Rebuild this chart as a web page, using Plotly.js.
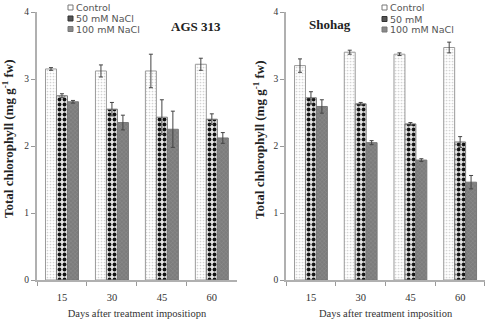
<!DOCTYPE html>
<html>
<head>
<meta charset="utf-8">
<script src="https://cdn.plot.ly/plotly-3.0.1.min.js"></script>
<style>
  html, body { margin: 0; padding: 0; background: #fff; }
  #chart { width: 486px; height: 322px; }
</style>
</head>
<body>
<div id="chart"></div>
<script>
// Days after treatment imposition
const days = ['15', '30', '45', '60'];

// AGS 313 — total chlorophyll (mg g-1 fw) and standard errors
const agsControl = [3.15, 3.12, 3.12, 3.22];
const agsControlErr = [0.02, 0.09, 0.25, 0.09];
const ags50 = [2.75, 2.55, 2.43, 2.40];
const ags50Err = [0.03, 0.10, 0.26, 0.08];
const ags100 = [2.66, 2.35, 2.25, 2.12];
const ags100Err = [0.02, 0.11, 0.27, 0.08];

// Shohag — total chlorophyll (mg g-1 fw) and standard errors
const shoControl = [3.20, 3.40, 3.37, 3.47];
const shoControlErr = [0.10, 0.03, 0.02, 0.08];
const sho50 = [2.72, 2.63, 2.33, 2.06];
const sho50Err = [0.09, 0.02, 0.02, 0.08];
const sho100 = [2.59, 2.05, 1.79, 1.46];
const sho100Err = [0.10, 0.03, 0.02, 0.10];

// Legend labels for each panel
const agsNames = ['Control', '50 mM NaCl', '100 mM NaCl'];
const shoNames = ['Control', '50 mM', '100 mM NaCl'];

const styles = [
  { color: '#ffffff', line: { color: '#9a9a9a', width: 1 },
    pattern: { shape: '.', fgcolor: '#d2d2d2', bgcolor: '#ffffff', size: 3, solidity: 0.25 },
    swatch: '#ffffff', swatchLine: '#777777' },
  { color: '#222222', line: { color: '#7a7a7a', width: 1 },
    pattern: { shape: '.', fgcolor: '#111111', bgcolor: '#e6e6e6', size: 5, solidity: 0.45 },
    swatch: '#555555', swatchLine: '#333333' },
  { color: '#848484', line: { color: '#777777', width: 1 },
    pattern: { shape: 'x', fgcolor: '#9a9a9a', bgcolor: '#7c7c7c', size: 3, solidity: 0.2 },
    swatch: '#8a8a8a', swatchLine: '#777777' }
];

function bar(y, err, name, style, xa, ya) {
  return {
    type: 'bar', x: days, y: y, name: name,
    xaxis: xa, yaxis: ya, showlegend: false,
    marker: { color: style.color, line: style.line, pattern: style.pattern },
    error_y: { type: 'data', array: err, visible: true, color: '#444', thickness: 1, width: 2 }
  };
}

const traces = [
  bar(agsControl, agsControlErr, agsNames[0], styles[0], 'x', 'y'),
  bar(ags50, ags50Err, agsNames[1], styles[1], 'x', 'y'),
  bar(ags100, ags100Err, agsNames[2], styles[2], 'x', 'y'),
  bar(shoControl, shoControlErr, shoNames[0], styles[0], 'x2', 'y2'),
  bar(sho50, sho50Err, shoNames[1], styles[1], 'x2', 'y2'),
  bar(sho100, sho100Err, shoNames[2], styles[2], 'x2', 'y2')
];

const serif = 'Liberation Serif, Times New Roman, serif';
const sans = 'DejaVu Sans, Liberation Sans, sans-serif';

function xAxis(domain, anchor, title) {
  return {
    domain: domain, anchor: anchor, type: 'category',
    showline: true, linecolor: '#b0b0b0', linewidth: 2,
    ticks: 'outside', tickson: 'boundaries', ticklen: 4, tickcolor: '#999',
    ticklabelstandoff: 6,
    tickfont: { family: serif, size: 10.5, color: '#333' },
    title: { text: title, font: { family: serif, size: 10.5, color: '#333' }, standoff: 8 },
    showgrid: false, zeroline: false, fixedrange: true
  };
}

function yAxis(anchor) {
  return {
    anchor: anchor, domain: [0, 1], range: [0, 4], dtick: 1,
    showline: true, linecolor: '#b0b0b0', linewidth: 2,
    ticks: 'outside', ticklen: 4, tickcolor: '#999',
    tickfont: { family: serif, size: 9.5, color: '#333' },
    showgrid: false, zeroline: false, fixedrange: true
  };
}

const M = { l: 37, r: 1, t: 12, b: 42 };
const W = 486 - M.l - M.r, H = 322 - M.t - M.b;
function px(xp) { return (xp - M.l) / W; }
function py(yp) { return 1 - (yp - M.t) / H; }

const yTitle = 'Total chlorophyll (mg g<sup>-1</sup> fw)';
const titleFont = { family: serif, size: 13, color: '#222', weight: 'bold' };

const annotations = [
  { text: 'AGS 313', x: px(196), y: py(26), xanchor: 'center', yanchor: 'middle',
    font: titleFont },
  { text: 'Shohag', x: px(330), y: py(25), xanchor: 'center', yanchor: 'middle',
    font: titleFont },
  { text: yTitle, textangle: -90, x: px(8), y: py(139), xanchor: 'center', yanchor: 'middle',
    font: titleFont },
  { text: yTitle, textangle: -90, x: px(259), y: py(140), xanchor: 'center', yanchor: 'middle',
    font: titleFont }
];
const shapes = [];

// Compact legends: small square key plus label for each series
function addLegend(names, x0, rows) {
  names.forEach((name, i) => {
    const yc = rows[i];
    shapes.push({
      type: 'rect', xref: 'paper', yref: 'paper',
      x0: px(x0), x1: px(x0 + 5), y0: py(yc + 2.5), y1: py(yc - 2.5),
      fillcolor: styles[i].swatch, line: { color: styles[i].swatchLine, width: 1 }
    });
    annotations.push({
      text: name, x: px(x0 + 6), y: py(yc), xanchor: 'left', yanchor: 'middle',
      font: { family: sans, size: 9.5, color: '#555' }
    });
  });
}
addLegend(agsNames, 68, [7.5, 18.5, 29]);
addLegend(shoNames, 382, [7.5, 19, 29.5]);

annotations.forEach(a => { a.xref = 'paper'; a.yref = 'paper'; a.showarrow = false; });

const layout = {
  width: 486, height: 322,
  margin: M,
  paper_bgcolor: '#ffffff', plot_bgcolor: '#ffffff',
  barmode: 'group', bargap: 0.34, bargroupgap: 0,
  showlegend: false,
  xaxis: xAxis([0, 0.446], 'y', 'Days after treatment impositiopn'),
  yaxis: yAxis('x'),
  xaxis2: xAxis([0.556, 1], 'y2', 'Days after treatment imposition'),
  yaxis2: yAxis('x2'),
  annotations: annotations,
  shapes: shapes
};

Plotly.newPlot('chart', traces, layout, { displayModeBar: false, staticPlot: true });
</script>
</body>
</html>
